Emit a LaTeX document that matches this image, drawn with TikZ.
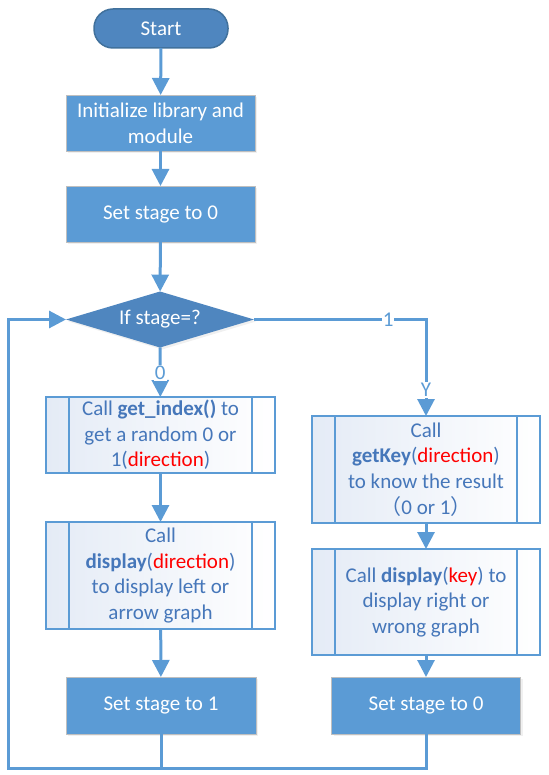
\documentclass[tikz,border=0pt]{standalone}
\usepackage{fontspec}
\setmainfont{Carlito}
\newfontfamily\cjk{Noto Sans CJK SC}
\usetikzlibrary{shapes.geometric,arrows.meta,shadows}
\definecolor{lineblue}{HTML}{5B9BD5}
\definecolor{boxblue}{HTML}{5B9BD5}
\definecolor{darkblue}{HTML}{4F86BF}
\definecolor{darkedge}{HTML}{41719C}
\definecolor{boxedge}{HTML}{BFBFBF}
\definecolor{subtext}{HTML}{4677BA}
\definecolor{subshade}{HTML}{E4EBF6}
\newcommand{\callname}[1]{\textbf{#1}}
\newcommand{\redword}[1]{\textcolor{red}{#1}}

\begin{document}
\begin{tikzpicture}[x=1pt,y=1pt]
\tikzstyle{every node}+=[inner sep=0pt, outer sep=0pt, align=center, font=\fontsize{21}{25.6}\selectfont]
\tikzstyle{filled}=[rectangle, fill=boxblue, draw=boxedge, line width=0.8pt, text=white, drop shadow={opacity=0.12, shadow xshift=2pt, shadow yshift=-2pt}]
\tikzstyle{terminal}=[rectangle, rounded corners=19pt, fill=darkblue, draw=darkedge, line width=1.5pt, text=white, minimum width=134pt, minimum height=39pt]
\tikzstyle{decision}=[diamond, aspect=3.36, fill=darkblue, text=white, minimum width=188pt, minimum height=56pt, drop shadow={opacity=0.12, shadow xshift=2pt, shadow yshift=-2pt}]
\tikzstyle{subproc}=[rectangle, draw=lineblue, line width=2pt, text=subtext, left color=subshade, right color=white, minimum width=229pt, path picture={\draw [lineblue, line width=2pt] ([xshift=23pt]path picture bounding box.north west) -- ([xshift=23pt]path picture bounding box.south west) ([xshift=-23pt]path picture bounding box.north east) -- ([xshift=-23pt]path picture bounding box.south east);}]
\tikzstyle{flow}=[draw=lineblue, line width=3pt, -{Triangle[length=17pt,width=17pt]}]
\tikzstyle{plain}=[draw=lineblue, line width=3pt]
\tikzstyle{branch}=[fill=white, text=lineblue, inner sep=1pt]
\useasboundingbox (0,0) rectangle (548,-775);
\node [terminal] (start) at (161,-28.5) {Start};
\node [filled, minimum width=189pt, minimum height=56pt] (init) at (160.5,-123) {Initialize library and\\module};
\node [filled, minimum width=189pt, minimum height=56pt] (setzero) at (160.5,-214) {Set stage to 0};
\node [decision] (stage) at (160,-319.5) {If stage=?};
\node [subproc, minimum height=76pt] (index) at (160.5,-435) {Call \callname{get\_index()} to\\get a random 0 or\\1(\redword{direction})};
\node [subproc, minimum height=107pt] (show) at (160.5,-575.5) {Call\\\callname{display}(\redword{direction})\\to display left or\\arrow graph};
\node [subproc, minimum width=228pt, minimum height=107pt] (getkey) at (426,-469.5) {Call\\\callname{getKey}(\redword{direction})\\to know the result\\{\cjk （}0 or 1{\cjk ）}};
\node [subproc, minimum width=228pt, minimum height=106pt] (result) at (426,-602) {Call \callname{display}(\redword{key}) to\\display right or\\wrong graph};
\node [filled, minimum width=190pt, minimum height=57pt] (setone) at (161,-705.5) {Set stage to 1};
\node [filled, minimum width=189pt, minimum height=57pt] (reset) at (426,-705.5) {Set stage to 0};
\coordinate (corner) at (426,-319.5);
\coordinate (loopleft) at (8,-768);
\coordinate (loopup) at (8,-319.5);
\draw [flow] (start) -- (init);
\draw [flow] (init) -- (setzero);
\draw [flow] (setzero) -- (stage);
\draw [flow] (stage) -- node [branch, pos=0.52] {0} (index);
\draw [flow] (stage.east) -- node [branch, pos=0.78] {1} (corner) -- node [branch, pos=0.73] {Y} (getkey);
\draw [flow] (index) -- (show);
\draw [flow] (show) -- (setone);
\draw [flow] (getkey) -- (result);
\draw [flow] (result) -- (reset);
\draw [plain] (setone) -- (setone |- loopleft);
\draw [flow] (reset) -- (reset |- loopleft) -- (loopleft) -- (loopup) -- (stage.west);
\end{tikzpicture}
\end{document}
